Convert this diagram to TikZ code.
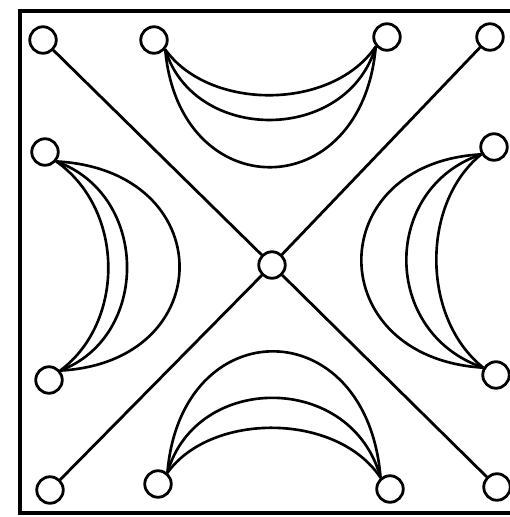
\documentclass[tikz,border=0pt]{standalone}
\usepackage{tikz}
\tikzset{
  ring/.style={draw, circle, minimum size=5.3mm, inner sep=0pt, line width=1.6pt},
  spoke/.style={line width=1.6pt},
  horn/.style={line width=1.5pt},
  edgeline/.style={line width=2pt}
}

\begin{document}
\begin{tikzpicture}[x=0.2mm, y=-0.2mm]
  \useasboundingbox (0,0) rectangle (510,517);
  % frame, open on the right
  \coordinate (ftr) at (510,11);
  \coordinate (fbr) at (510,513);
  \draw[edgeline] (ftr) -- (20,11) -- (20,513) -- (fbr);

  \node[ring] (tl) at (43,40) {};
  \node[ring] (t2) at (154,40) {};
  \node[ring] (t3) at (387,37) {};
  \node[ring] (tr) at (490,37) {};
  \node[ring] (l1) at (45,152) {};
  \node[ring] (r1) at (494,147) {};
  \node[ring] (mid) at (272,265) {};
  \node[ring] (l2) at (49,380) {};
  \node[ring] (r2) at (496,375) {};
  \node[ring] (bl) at (50,490) {};
  \node[ring] (b2) at (158,484) {};
  \node[ring] (b3) at (390,489) {};
  \node[ring] (br) at (497,487) {};

  % diagonals
  \draw[spoke] (tl) -- (mid) -- (br);
  \draw[spoke] (tr) -- (mid) -- (bl);

  % top crescent
  \draw[horn] (t2.-40) .. controls (179,207) and (362,207) .. (t3.-140);
  \draw[horn] (t2.-40) .. controls (194,144) and (347,144) .. (t3.-140);
  \draw[horn] (t2.-40) .. controls (209,111) and (332,111) .. (t3.-140);
  % left crescent
  \draw[horn] (l1.-40) .. controls (220,170) and (220,362) .. (l2.40);
  \draw[horn] (l1.-40) .. controls (150,195) and (150,337) .. (l2.40);
  \draw[horn] (l1.-40) .. controls (125,210) and (125,322) .. (l2.40);
  % right crescent
  \draw[horn] (r1.-150) .. controls (321,163) and (321,358) .. (r2.150);
  \draw[horn] (r1.-150) .. controls (381,188) and (381,333) .. (r2.150);
  \draw[horn] (r1.-150) .. controls (421,203) and (421,318) .. (r2.150);
  % bottom crescent
  \draw[horn] (b2.50) .. controls (181,310) and (367,310) .. (b3.130);
  \draw[horn] (b2.50) .. controls (196,372) and (352,372) .. (b3.130);
  \draw[horn] (b2.50) .. controls (211,412) and (337,412) .. (b3.130);
\end{tikzpicture}
\end{document}
